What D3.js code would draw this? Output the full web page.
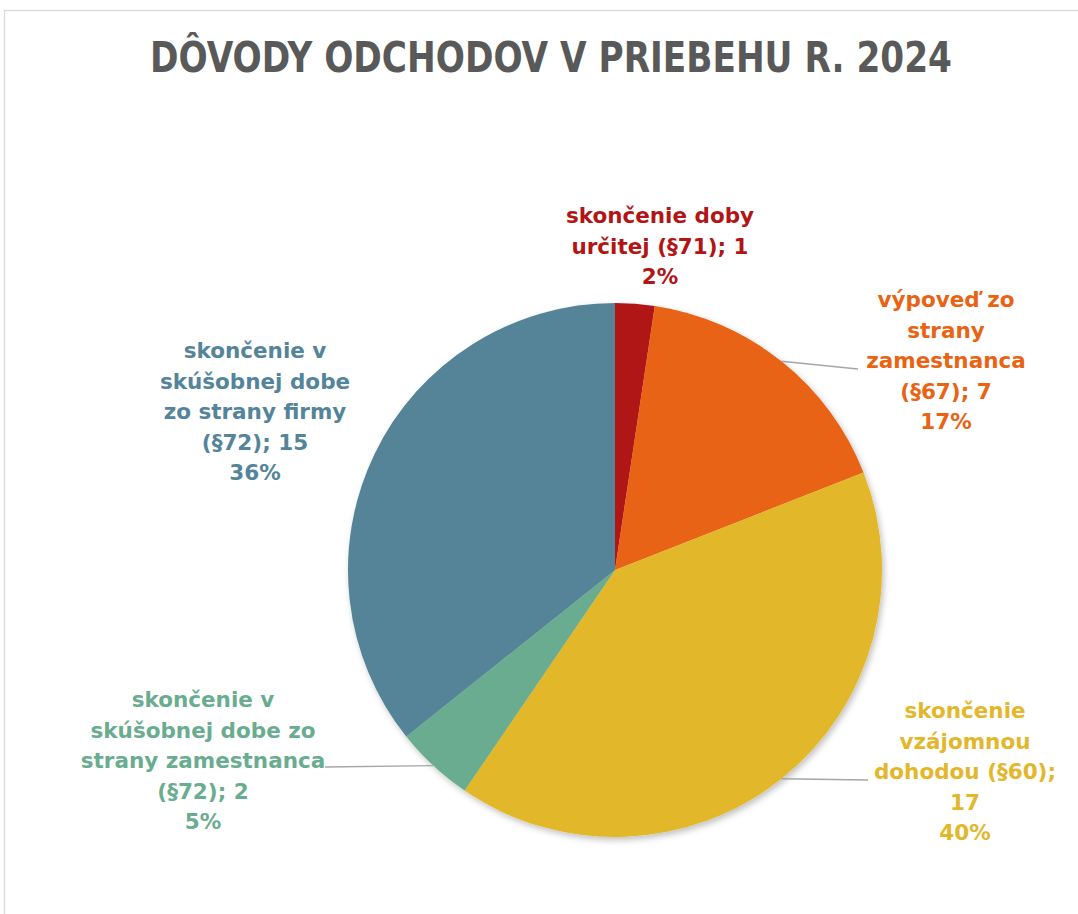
<!DOCTYPE html>
<html>
<head>
<meta charset="utf-8">
<script src="https://cdn.jsdelivr.net/npm/d3@7"></script>
<style>
  body { margin: 0; background: #fff; }
  svg { display: block; }
</style>
</head>
<body>
<script>
// Dôvody odchodov v priebehu r. 2024 - pie chart

// Data
var categories = ["doba", "vypoved", "dohoda", "skusobna_zam", "skusobna_firma"];
var values = [1, 7, 17, 2, 15];
var colors = ["#b11515", "#e96313", "#e3b72b", "#69ac8f", "#548499"];
// label lines, {v} = value, {p} = percent
var labelLines = [
    ["skončenie doby", "určitej (§71); {v}", "{p}"],
    ["výpoveď zo", "strany", "zamestnanca", "(§67); {v}", "{p}"],
    ["skončenie", "vzájomnou", "dohodou (§60);", "{v}", "{p}"],
    ["skončenie v", "skúšobnej dobe zo", "strany zamestnanca", "(§72); {v}", "{p}"],
    ["skončenie v", "skúšobnej dobe", "zo strany firmy", "(§72); {v}", "{p}"]
];
var titleText = "DÔVODY ODCHODOV V PRIEBEHU R. 2024";

// Layout (label block centre x, first baseline y, leader end)
var labelLayout = [
    {x: 660, y: 223, leader: null},
    {x: 946, y: 307, leader: [858, 369]},
    {x: 965, y: 718, leader: [868, 780]},
    {x: 203, y: 707, leader: [325, 767]},
    {x: 255, y: 358, leader: null}
];

var w = 1078;
var h = 914;
var cx = 615, cy = 570, radius = 267;
var lineHeight = 30.5;

var svg = d3.select("body").append("svg")
    .attr("width", w)
    .attr("height", h);

svg.append("rect")
    .attr("width", w)
    .attr("height", h)
    .attr("fill", "#fff");

// chart area border
svg.append("rect")
    .attr("x", 4.5)
    .attr("y", 10.5)
    .attr("width", w + 20)
    .attr("height", h + 20)
    .attr("fill", "none")
    .attr("stroke", "#d9d9d9")
    .attr("stroke-width", 1.3);

// Title
svg.append("text")
    .attr("x", 551)
    .attr("y", 72)
    .attr("text-anchor", "middle")
    .attr("font-family", "'DejaVu Sans Condensed', 'DejaVu Sans', sans-serif")
    .attr("font-weight", "bold")
    .attr("font-size", 42)
    .attr("fill", "#595959")
    .attr("textLength", 802)
    .attr("lengthAdjust", "spacingAndGlyphs")
    .text(titleText);

// Shadow filter
var defs = svg.append("defs");
var filter = defs.append("filter")
    .attr("id", "shadow")
    .attr("x", "-10%").attr("y", "-10%")
    .attr("width", "120%").attr("height", "120%");
filter.append("feDropShadow")
    .attr("dx", 2)
    .attr("dy", 3)
    .attr("stdDeviation", 3)
    .attr("flood-color", "#000")
    .attr("flood-opacity", 0.25);

var total = d3.sum(values);
var pie = d3.pie().sort(null).value(function(d) { return d; });
var arcs = pie(values);
var arc = d3.arc().innerRadius(0).outerRadius(radius);

var g = svg.append("g")
    .attr("transform", "translate(" + cx + "," + cy + ")");

g.append("g")
    .attr("filter", "url(#shadow)")
    .selectAll("path")
    .data(arcs)
    .enter()
    .append("path")
    .attr("d", arc)
    .attr("fill", function(d, i) { return colors[i]; });

// Leader lines from the slice edge at mid angle
arcs.forEach(function(d, i) {
    var lay = labelLayout[i];
    if (!lay.leader) return;
    var a = (d.startAngle + d.endAngle) / 2;
    var x0 = Math.sin(a) * radius;
    var y0 = -Math.cos(a) * radius;
    g.append("line")
        .attr("x1", x0)
        .attr("y1", y0)
        .attr("x2", lay.leader[0] - cx)
        .attr("y2", lay.leader[1] - cy)
        .attr("stroke", "#a6a6a6")
        .attr("stroke-width", 1.3);
});

// Labels
var labels = svg.append("g")
    .attr("font-family", "'DejaVu Sans', sans-serif")
    .attr("font-weight", "bold")
    .attr("font-size", 21.5)
    .attr("text-anchor", "middle");

labelLines.forEach(function(lines, i) {
    var lay = labelLayout[i];
    var pct = Math.round(values[i] / total * 100) + "%";
    var t = labels.append("text")
        .attr("fill", colors[i]);
    lines.forEach(function(s, j) {
        t.append("tspan")
            .attr("x", lay.x)
            .attr("y", lay.y + j * lineHeight)
            .text(s.replace("{v}", values[i]).replace("{p}", pct));
    });
});
</script>
</body>
</html>
